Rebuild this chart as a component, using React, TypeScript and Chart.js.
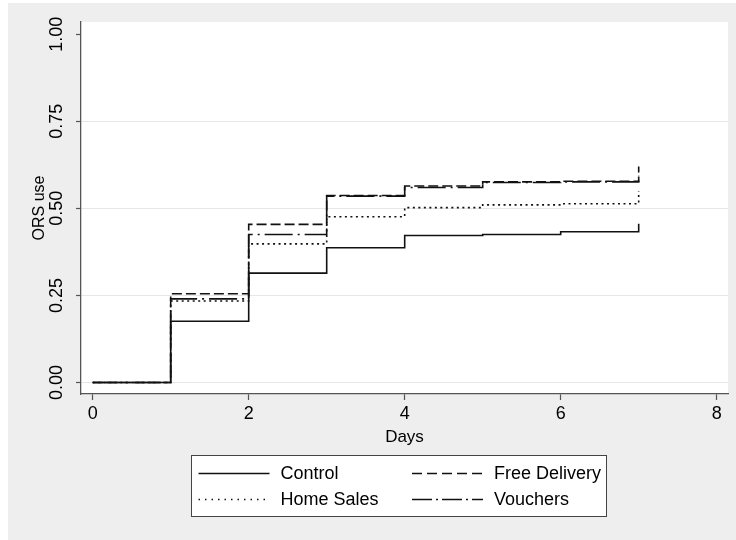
import React, { useEffect, useRef } from "react";
import { Chart, registerables } from "chart.js";

Chart.register(...registerables);

const days = [0, 1, 2, 3, 4, 5, 6, 7];
const control = [0, 0.176, 0.314, 0.387, 0.422, 0.425, 0.433, 0.456];
const freeDelivery = [0, 0.255, 0.454, 0.537, 0.564, 0.576, 0.578, 0.62];
const homeSales = [0, 0.234, 0.398, 0.476, 0.502, 0.51, 0.513, 0.55];
const vouchers = [0, 0.24, 0.425, 0.535, 0.56, 0.574, 0.576, 0.595];

const seriesNames = ["Control", "Free Delivery", "Home Sales", "Vouchers"];
const xTicks = [0, 2, 4, 6, 8];
const yTicks = [0, 0.25, 0.5, 0.75, 1];
const xTitle = "Days";
const yTitle = "ORS use";

const FONT = "'Liberation Sans', Arial, Helvetica, sans-serif";
const INK = "#111111";
const AXIS = "#555555";

const plotDashes = [[], [10, 4], [2, 3.5], [28, 5, 2, 5]];
const legendDashes = [[], [10, 5], [1.5, 5], [20, 4, 2, 4]];

const bgPlugin = {
  id: "stataBg",
  beforeDraw(chart: any) {
    const { ctx, chartArea } = chart;
    ctx.save();
    ctx.fillStyle = "#EEEEEE";
    ctx.fillRect(0, 0, chart.width, chart.height);
    ctx.fillStyle = "#FFFFFF";
    ctx.fillRect(chartArea.left, chartArea.top, chartArea.right - chartArea.left, chartArea.bottom - chartArea.top);
    ctx.restore();
  },
};

const legendPlugin = {
  id: "stataLegend",
  afterDraw(chart: any) {
    const { ctx } = chart;
    ctx.save();
    const bx = 183, by = 452, bw = 415, bh = 61;
    ctx.fillStyle = "#FFFFFF";
    ctx.fillRect(bx, by, bw, bh);
    ctx.strokeStyle = "#444444";
    ctx.lineWidth = 1;
    ctx.strokeRect(bx + 0.5, by + 0.5, bw, bh);
    const cols = [
      { lx: 190.5, lw: 71, tx: 272.5 },
      { lx: 404, lw: 71, tx: 486 },
    ];
    const rows = [470.5, 496.5];
    const layout = [
      [0, 0],
      [1, 0],
      [0, 1],
      [1, 1],
    ];
    chart.data.datasets.forEach((ds: any, i: number) => {
      const [c, r] = layout[i];
      const col = cols[c];
      const y = rows[r];
      ctx.beginPath();
      ctx.setLineDash(legendDashes[i]);
      ctx.strokeStyle = INK;
      ctx.lineWidth = 1.3;
      ctx.moveTo(col.lx, y);
      ctx.lineTo(col.lx + col.lw, y);
      ctx.stroke();
      ctx.setLineDash([]);
      ctx.fillStyle = "#000000";
      ctx.font = `18px ${FONT}`;
      ctx.textBaseline = "middle";
      ctx.textAlign = "left";
      ctx.fillText(ds.label, col.tx, y + 1);
    });
    ctx.restore();
  },
};

export default function App() {
  const ref = useRef<HTMLCanvasElement | null>(null);

  useEffect(() => {
    if (!ref.current) return;
    const all = [control, freeDelivery, homeSales, vouchers];
    const chart = new Chart(ref.current, {
      type: "line",
      data: {
        datasets: all.map((vals, i) => ({
          label: seriesNames[i],
          data: days.map((d, k) => ({ x: d, y: vals[k] })),
          borderColor: INK,
          borderWidth: 1.6,
          borderDash: plotDashes[i],
          pointRadius: 0,
          stepped: true,
          fill: false,
        })),
      },
      options: {
        responsive: false,
        animation: false,
        layout: { padding: { top: 19, right: 8, left: 0, bottom: 0 } },
        plugins: { legend: { display: false }, tooltip: { enabled: false } },
        scales: {
          x: {
            type: "linear",
            min: -0.15,
            max: 8.145,
            afterBuildTicks: (s: any) => {
              s.ticks = xTicks.map((v) => ({ value: v }));
            },
            afterFit: (s: any) => {
              s.height = 146;
            },
            ticks: {
              color: "#000",
              font: { family: FONT, size: 18 },
              padding: 3,
              maxRotation: 0,
              minRotation: 0,
              callback: (v: any) => String(v),
            },
            grid: { drawOnChartArea: false, drawTicks: true, tickLength: 6, tickColor: AXIS, tickWidth: 1.2 },
            border: { display: true, color: AXIS, width: 1.3 },
            title: {
              display: true,
              text: xTitle,
              color: "#000",
              font: { family: FONT, size: 17 },
              padding: { top: 0, bottom: 92 },
            },
          },
          y: {
            type: "linear",
            min: -0.033,
            max: 1.035,
            afterBuildTicks: (s: any) => {
              s.ticks = yTicks.map((v) => ({ value: v }));
            },
            afterFit: (s: any) => {
              s.width = 73;
            },
            ticks: {
              color: "#000",
              font: { family: FONT, size: 18 },
              padding: 1,
              minRotation: 90,
              maxRotation: 90,
              crossAlign: "center",
              callback: (v: any) => Number(v).toFixed(2),
            },
            grid: {
              color: (c: any) => (c.tick && c.tick.value === 1 ? "rgba(0,0,0,0)" : "#E6E6E6"),
              lineWidth: 1,
              drawTicks: true,
              tickLength: 5,
              tickColor: AXIS,
              tickWidth: 1.2,
            },
            border: { display: true, color: AXIS, width: 1.3 },
            title: {
              display: true,
              text: yTitle,
              color: "#000",
              font: { family: FONT, size: 16 },
              padding: { top: 22, bottom: 0 },
            },
          },
        },
      },
      plugins: [bgPlugin, legendPlugin],
    } as any);
    return () => chart.destroy();
  }, []);

  return (
    <div style={{ position: "fixed", left: 8, top: 3, width: 728, height: 537 }}>
      <canvas ref={ref} width={728} height={537} style={{ display: "block" }} />
    </div>
  );
}
